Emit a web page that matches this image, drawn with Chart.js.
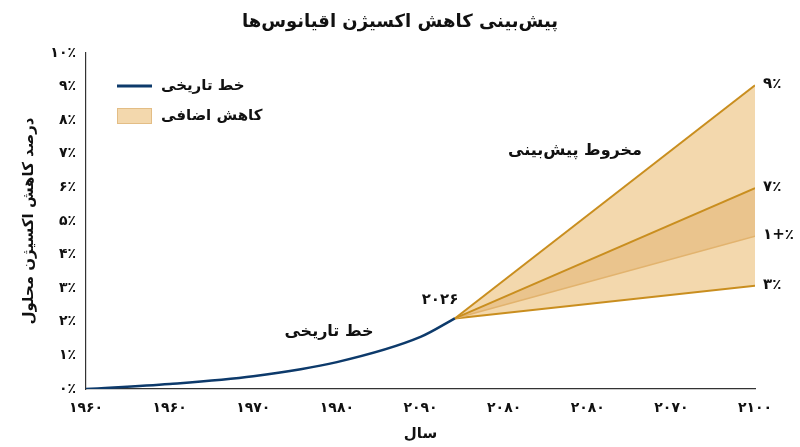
<!DOCTYPE html>
<html>
<head>
<meta charset="utf-8">
<script src="https://cdn.jsdelivr.net/npm/chart.js@4/dist/chart.umd.min.js"></script>
<style>
  html, body { margin: 0; padding: 0; background: #fff; }
  #wrap { width: 800px; height: 447px; position: relative; }
</style>
</head>
<body>
<div id="wrap"><canvas id="chart"></canvas></div>
<script>
// tick labels as printed on the picture
const xTickLabels = ["۱۹۶۰", "۱۹۶۰", "۱۹۷۰", "۱۹۸۰", "۲۰۹۰", "۲۰۸۰", "۲۰۸۰", "۲۰۷۰", "۲۱۰۰"];
const yTickLabels = ["۰٪", "۱٪", "۲٪", "۳٪", "۴٪", "۵٪", "۶٪", "۷٪", "۸٪", "۹٪", "۱۰٪"];

// historical curve (x in tick positions)
const histX = [0, 1, 2, 3, 4, 4.41];
const histY = [0, 0.15, 0.38, 0.8, 1.55, 2.1];

// forecast cone: start at 2026, end at right edge
const coneX = [4.41, 8];
const coneHigh = [2.1, 9.04];
const coneMidHigh = [2.1, 5.98];
const coneMidLow = [2.1, 4.55];
const coneLow = [2.1, 3.07];
const coneLabels = ["۹٪", "۷٪", "۱+٪", "۳٪"];

const FONT = "'DejaVu Sans', sans-serif";
const toPts = (xs, ys) => xs.map((x, i) => ({ x: x, y: ys[i] }));

const lightFill = "#f3d8ad";
const darkFill = "#eac48d";
const coneLine = "#c98e1f";

// titles, legend and notes drawn on the canvas
const notesPlugin = {
  id: "notes",
  afterDraw(chart) {
    const ctx = chart.ctx;
    const ys = chart.scales.y;
    const area = chart.chartArea;
    ctx.save();
    ctx.fillStyle = "#111";
    ctx.textBaseline = "middle";

    // main title
    ctx.textAlign = "center";
    ctx.font = "bold 18px " + FONT;
    ctx.fillText("پیش‌بینی کاهش اکسیژن اقیانوس‌ها", 400, 22);

    // axis titles
    ctx.font = "bold 15px " + FONT;
    ctx.fillText("سال", (area.left + area.right) / 2, 434);
    ctx.save();
    ctx.translate(29, (area.top + area.bottom) / 2);
    ctx.rotate(-Math.PI / 2);
    ctx.fillText("درصد کاهش اکسیژن محلول", 0, 0);
    ctx.restore();

    // legend
    ctx.strokeStyle = "#0d3a6b";
    ctx.lineWidth = 3;
    ctx.beginPath();
    ctx.moveTo(117, 86);
    ctx.lineTo(152, 86);
    ctx.stroke();
    ctx.fillStyle = lightFill;
    ctx.fillRect(117, 108, 35, 16);
    ctx.strokeStyle = "#e3bd85";
    ctx.lineWidth = 1;
    ctx.strokeRect(117.5, 108.5, 34, 15);
    ctx.fillStyle = "#111";
    ctx.textAlign = "left";
    ctx.font = "bold 15px " + FONT;
    ctx.fillText("خط تاریخی", 161, 86);
    ctx.fillText("کاهش اضافی", 161, 116);

    // notes in the plot
    ctx.textAlign = "center";
    ctx.font = "bold 16px " + FONT;
    ctx.fillText("خط تاریخی", 329, 332);
    ctx.fillText("مخروط پیش‌بینی", 575, 151);
    ctx.font = "bold 15px " + FONT;
    ctx.fillText("۲۰۲۶", 440, 300);

    // end labels of the cone
    ctx.textAlign = "left";
    ctx.font = "bold 15px " + FONT;
    const ends = [coneHigh, coneMidHigh, coneMidLow, coneLow];
    ends.forEach((arr, i) => {
      ctx.fillText(coneLabels[i], area.right + 8, ys.getPixelForValue(arr[arr.length - 1]) - 1);
    });
    ctx.restore();
  }
};

new Chart(document.getElementById("chart"), {
  type: "line",
  data: {
    datasets: [
      {
        label: "خط تاریخی",
        data: toPts(histX, histY),
        borderColor: "#0d3a6b",
        borderWidth: 2.5,
        pointRadius: 0,
        cubicInterpolationMode: "monotone",
        fill: false
      },
      {
        // darker band between the 7% and 1+% lines
        data: toPts(coneX, coneMidHigh),
        borderColor: coneLine,
        borderWidth: 2,
        pointRadius: 0,
        fill: { target: 3, above: darkFill, below: darkFill }
      },
      {
        // full cone between the 9% and 3% lines
        data: toPts(coneX, coneHigh),
        borderColor: coneLine,
        borderWidth: 2,
        pointRadius: 0,
        fill: { target: 4, above: lightFill, below: lightFill }
      },
      {
        data: toPts(coneX, coneMidLow),
        borderColor: "#e2b36e",
        borderWidth: 1.5,
        pointRadius: 0,
        fill: false
      },
      {
        data: toPts(coneX, coneLow),
        borderColor: coneLine,
        borderWidth: 2,
        pointRadius: 0,
        fill: false
      }
    ]
  },
  options: {
    responsive: true,
    maintainAspectRatio: false,
    animation: false,
    layout: { padding: { top: 53, right: 45, left: 0, bottom: 0 } },
    plugins: {
      legend: { display: false },
      tooltip: { enabled: false },
      filler: { drawTime: "beforeDatasetsDraw" }
    },
    scales: {
      x: {
        type: "linear",
        min: 0,
        max: xTickLabels.length - 1,
        afterFit: (s) => { s.height = 58; },
        afterBuildTicks: (s) => { s.ticks = xTickLabels.map((_, i) => ({ value: i })); },
        grid: { display: false, drawTicks: true, tickLength: 6, tickColor: "#333" },
        border: { color: "#333", width: 1.2 },
        ticks: {
          autoSkip: false,
          maxRotation: 0,
          padding: 5,
          color: "#111",
          font: { family: FONT, size: 14, weight: "bold" },
          callback: (v) => xTickLabels[v]
        }
      },
      y: {
        min: 0,
        max: yTickLabels.length - 1,
        afterFit: (s) => { s.width = 86; },
        grid: { display: false, drawTicks: true, tickLength: 6, tickColor: "#333" },
        border: { color: "#333", width: 1.2 },
        ticks: {
          stepSize: 1,
          padding: 4,
          color: "#111",
          font: { family: FONT, size: 14, weight: "bold" },
          callback: (v) => yTickLabels[v]
        }
      }
    }
  },
  plugins: [notesPlugin]
});
</script>
</body>
</html>
